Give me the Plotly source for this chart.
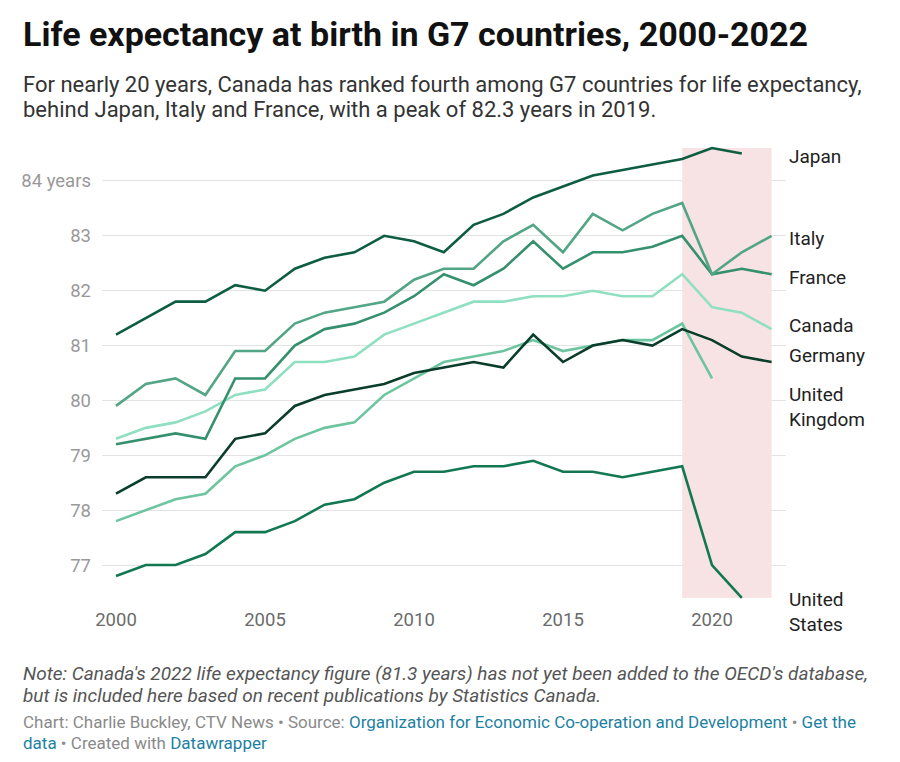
import plotly.graph_objects as go

# ---------------- data ----------------
years = list(range(2000, 2023))

japan = [81.2, 81.5, 81.8, 81.8, 82.1, 82.0, 82.4, 82.6, 82.7, 83.0, 82.9, 82.7,
         83.2, 83.4, 83.7, 83.9, 84.1, 84.2, 84.3, 84.4, 84.6, 84.5]
italy = [79.9, 80.3, 80.4, 80.1, 80.9, 80.9, 81.4, 81.6, 81.7, 81.8, 82.2, 82.4,
         82.4, 82.9, 83.2, 82.7, 83.4, 83.1, 83.4, 83.6, 82.3, 82.7, 83.0]
france = [79.2, 79.3, 79.4, 79.3, 80.4, 80.4, 81.0, 81.3, 81.4, 81.6, 81.9, 82.3,
          82.1, 82.4, 82.9, 82.4, 82.7, 82.7, 82.8, 83.0, 82.3, 82.4, 82.3]
canada = [79.3, 79.5, 79.6, 79.8, 80.1, 80.2, 80.7, 80.7, 80.8, 81.2, 81.4, 81.6,
          81.8, 81.8, 81.9, 81.9, 82.0, 81.9, 81.9, 82.3, 81.7, 81.6, 81.3]
germany = [78.3, 78.6, 78.6, 78.6, 79.3, 79.4, 79.9, 80.1, 80.2, 80.3, 80.5, 80.6,
           80.7, 80.6, 81.2, 80.7, 81.0, 81.1, 81.0, 81.3, 81.1, 80.8, 80.7]
united_kingdom = [77.8, 78.0, 78.2, 78.3, 78.8, 79.0, 79.3, 79.5, 79.6, 80.1, 80.4,
                  80.7, 80.8, 80.9, 81.1, 80.9, 81.0, 81.1, 81.1, 81.4, 80.4]
united_states = [76.8, 77.0, 77.0, 77.2, 77.6, 77.6, 77.8, 78.1, 78.2, 78.5, 78.7,
                 78.7, 78.8, 78.8, 78.9, 78.7, 78.7, 78.6, 78.7, 78.8, 77.0, 76.4]

country_names = ["Japan", "Italy", "France", "Canada", "Germany",
                 "United<br>Kingdom", "United<br>States"]
series = [japan, italy, france, canada, germany, united_kingdom, united_states]

x_tick_values = [2000, 2005, 2010, 2015, 2020]
y_tick_values = [77, 78, 79, 80, 81, 82, 83, 84]
y_tick_labels = ["77", "78", "79", "80", "81", "82", "83", "84 years"]

highlight_years = [2019, 2022]

title = "Life expectancy at birth in G7 countries, 2000-2022"
subtitle_lines = [
    "For nearly 20 years, Canada has ranked fourth among G7 countries for life expectancy,",
    "behind Japan, Italy and France, with a peak of 82.3 years in 2019.",
]
note_lines = [
    "Note: Canada's 2022 life expectancy figure (81.3 years) has not yet been added to the OECD's database,",
    "but is included here based on recent publications by Statistics Canada.",
]

# ---------------- style ----------------
OFF = 8                      # page body margin
W, H = 900 - OFF, 762 - OFF
# plot area in screen pixels
S_PL, S_PR, S_PT, S_PB = 102, 786, 140, 600
PL, PR, PT, PB = S_PL - OFF, S_PR - OFF, S_PT - OFF, S_PB - OFF
FONT = "Roboto"
colors = ["#0d5d41", "#52a585", "#35906d", "#8fdfc1", "#0a3d2a", "#6cc59f", "#127851"]
label_yshift = [-3, -3, -3, 4, 7, -29, -14]
LINK = "#1d81a2"


def px_x(screen_p):
    return (screen_p - S_PL) / (S_PR - S_PL)


def px_y(screen_p):
    return (S_PB - screen_p) / (S_PB - S_PT)


fig = go.Figure()

all_vals = [v for s in series for v in s]
fig.add_shape(type="rect", xref="x", yref="y",
              x0=highlight_years[0], x1=highlight_years[1],
              y0=min(all_vals), y1=max(all_vals),
              fillcolor="#f8e3e4", line_width=0, layer="between")

draw_order = [6, 5, 3, 2, 1, 4, 0]
for i in draw_order:
    vals = series[i]
    fig.add_trace(go.Scatter(
        x=years[:len(vals)], y=vals, mode="lines",
        line=dict(color=colors[i], width=2.6),
        name=country_names[i], showlegend=False, hoverinfo="skip"))

annotations = []
for i, vals in enumerate(series):
    annotations.append(dict(
        text=country_names[i], xref="paper", yref="y",
        x=px_x(787), y=vals[-1], xanchor="left", yanchor="middle",
        yshift=label_yshift[i], showarrow=False, align="left",
        font=dict(family=FONT, size=19, color="#222222")))

annotations.append(dict(
    text="<b>" + title + "</b>", xref="paper", yref="paper",
    x=px_x(21), y=px_y(34), xanchor="left", yanchor="middle", showarrow=False,
    font=dict(family=FONT, size=34, color="#111111")))
for j, line in enumerate(subtitle_lines):
    annotations.append(dict(
        text=line, xref="paper", yref="paper",
        x=px_x(21), y=px_y(84 + 25 * j), xanchor="left", yanchor="middle", showarrow=False,
        font=dict(family=FONT, size=22, color="#333333")))
for j, line in enumerate(note_lines):
    annotations.append(dict(
        text="<i>" + line + "</i>", xref="paper", yref="paper",
        x=px_x(21), y=px_y(673 + 22 * j), xanchor="left", yanchor="middle", showarrow=False,
        font=dict(family=FONT, size=19, color="#555555")))

footer_lines = [
    "Chart: Charlie Buckley, CTV News • Source: "
    f"<span style='color:{LINK}'>Organization for Economic Co-operation and Development</span>"
    f" • <span style='color:{LINK}'>Get the</span>",
    f"<span style='color:{LINK}'>data</span> • Created with "
    f"<span style='color:{LINK}'>Datawrapper</span>",
]
for j, line in enumerate(footer_lines):
    annotations.append(dict(
        text=line, xref="paper", yref="paper",
        x=px_x(21), y=px_y(722 + 21 * j), xanchor="left", yanchor="middle", showarrow=False,
        font=dict(family=FONT, size=17, color="#8a8a8a")))

# axis ranges from the reference pixel scale
x0_year = 2000 - (116 - S_PL) / 29.8
x1_year = 2000 + (S_PR - 116) / 29.8
y_per_px = 1 / 54.9
y0_val = 77 - (S_PB - 565) * y_per_px
y1_val = 84 + (181 - S_PT) * y_per_px

fig.update_layout(
    width=W, height=H,
    margin=dict(l=PL, r=W - PR, t=PT, b=H - PB, pad=0),
    paper_bgcolor="white", plot_bgcolor="white",
    font=dict(family=FONT),
    annotations=annotations,
    xaxis=dict(range=[x0_year, x1_year], tickvals=x_tick_values,
               showgrid=False, zeroline=False, showline=False, ticks="",
               ticklabelstandoff=6,
               tickfont=dict(family=FONT, size=18.5, color="#6b6b6b")),
    yaxis=dict(range=[y0_val, y1_val], tickvals=y_tick_values, ticktext=y_tick_labels,
               showgrid=True, gridcolor="#e3e3e3", gridwidth=1,
               zeroline=False, showline=False, ticks="",
               ticklabelstandoff=10,
               tickfont=dict(family=FONT, size=18.5, color="#999999")),
)

fig.write_html("out.html")
